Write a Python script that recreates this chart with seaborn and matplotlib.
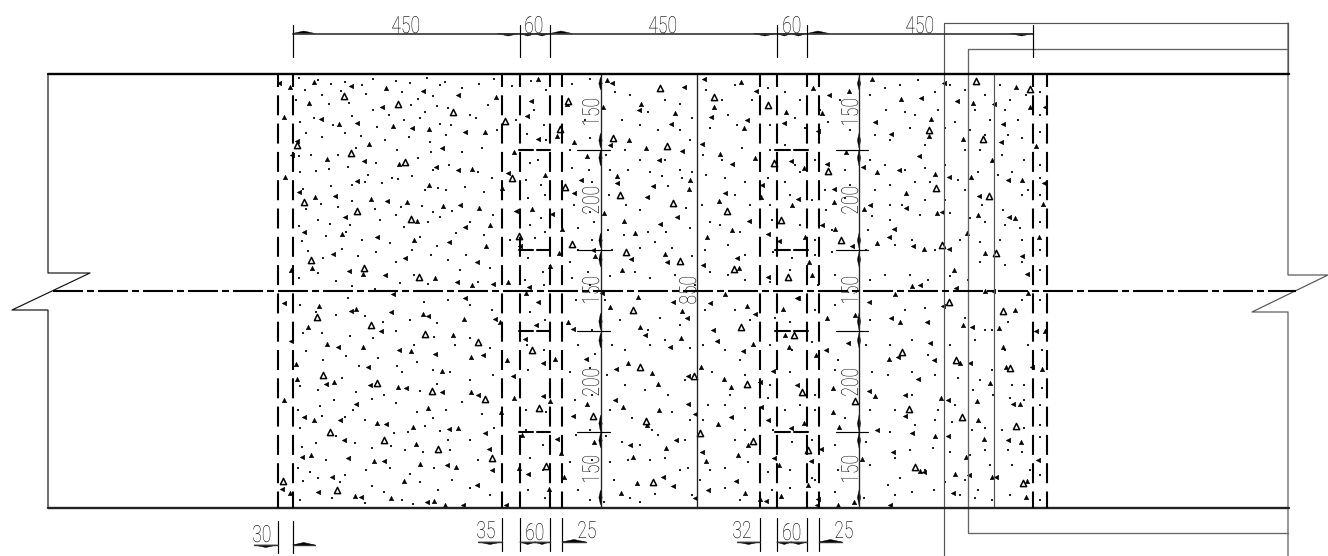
import matplotlib
matplotlib.use('Agg')
import matplotlib.patheffects as pe
import matplotlib.pyplot as plt
from matplotlib.transforms import Affine2D
import pandas as pd
import seaborn as sns

# everything in pixels
top_y, bottom_y, axis_y = 74, 507.5, 291
dashed_x = [277.5, 292.5, 502, 519.5, 550, 562, 760, 776.5, 807, 819, 1033, 1047]
solid_x = [600.5, 697, 859]
grey_x = [994]
level_y = [150, 250, 331, 432]
tick_spans = [(577, 610), (836, 868)]
tie_spans = [((519, 533), (537, 550)), ((775, 790), (794, 808))]
arrow_spans = [(77, 90), (133, 148), (150, 166), (233, 248), (252, 267), (313, 330), (333, 348), (415, 432), (433, 448), (490, 505)]

left_break_x = [48, 48, 90, 12, 48, 48]
left_break_y = [74, 273, 273, 310, 310, 507.5]
right_break_x = [1288, 1288, 1328, 1252, 1288, 1288]
right_break_y = [23, 275, 275, 312, 312, 556]
frame_a_x = [944, 944, 1288]
frame_a_y = [556, 23, 23]
frame_b_x = [1288, 968, 968, 1288]
frame_b_y = [49, 49, 533, 533]

top_ticks = [292.5, 519.5, 550, 776.5, 807, 1033]
top_arrows = [(292.5, 315, -1), (497, 519.5, 1), (519.5, 536, 1), (534, 550, 1), (550, 572, -1), (753, 776.5, 1), (776.5, 792, 1), (790, 807, 1), (807, 829, -1), (1010, 1033, 1)]
bottom_arrows = [(254, 277.5, 1, 545), (292.5, 315, -1, 545), (478, 502, 1, 542), (519.5, 536, 1, 542), (534, 550, 1, 542), (562, 586, -1, 542), (737, 760, 1, 542), (776.5, 792, 1, 542), (790, 807, 1, 542), (819, 842, -1, 542)]
bottom_ticks = [(277.5, 521, 553), (292.5, 521, 553), (502, 518, 551), (519.5, 518, 551), (550, 518, 551), (562, 518, 551), (760, 518, 551), (776.5, 518, 551), (807, 518, 551), (819, 518, 551)]

top_labels = [('450', 406, 24), ('60', 534, 24), ('450', 663, 24), ('60', 792, 24), ('450', 920, 24)]
bottom_labels = [('30', 262, 533), ('35', 486, 529), ('60', 535, 531), ('25', 587, 529), ('32', 742, 529), ('60', 792, 531), ('25', 844, 529)]
side_labels = [('150', 112), ('200', 200), ('150', 290), ('200', 382), ('150', 469)]
side_x = [590, 849]
mid_label = ('850', 687, 290)

open_tri = [(344,96),(398,104),(297,145),(351,153),(405,162),(304,202),(357,211),(411,219),(311,260),(364,268),(419,277),
            (317,317),(371,325),(425,334),(323,375),(377,383),(432,391),(330,432),(384,440),(438,449),(337,490),(283,481),
            (453,112),(568,101),(505,121),(560,129),(512,178),(565,187),(519,236),(572,244),(626,252),(680,261),(673,203),
            (620,195),(613,138),(667,146),(660,88),(714,97),(768,105),(774,163),(828,171),(781,220),(727,211),(734,269),
            (788,277),(841,240),(976,81),(1030,89),(929,130),(983,139),(936,188),(989,196),(942,245),(996,253),(949,302),
            (1003,311),(902,352),(956,360),(1010,368),(909,409),(962,417),(1016,426),(915,467),(1023,483),(478,342),(532,350),
            (485,399),(539,408),(593,416),(492,458),(546,466),(633,310),(640,367),(646,421),(694,376),(700,433),(653,482),
            (741,327),(794,335),(747,384),(753,441),(802,392),(808,450),(855,401)]
solid_tri = [(314,82),(351,86),(386,88),(423,91),(290,87),(279,83),(309,103),(382,107),(284,117),(321,119),(339,124),(357,123),
             (393,126),(412,128),(429,129),(297,141),(369,144),(292,155),(327,159),(364,161),(399,164),(436,167),(285,177),
             (357,181),(429,185),(299,192),(315,197),(335,196),(371,199),(387,201),(407,202),(345,217),(417,221),(304,232),
             (342,234),(377,237),(414,240),(333,254),(312,268),(405,258),(291,270),(349,271),(363,274),(385,275),(435,278),
             (393,294),(538,79),(458,95),(496,97),(531,101),(567,104),(527,116),(557,136),(465,132),(485,132),(538,139),(574,142),
             (442,148),(514,152),(458,170),(472,169),(508,173),(545,175),(581,180),(502,188),(574,193),(443,206),(460,205),
             (479,208),(516,211),(532,209),(552,214),(562,229),(465,227),(490,225),(449,242),(486,246),(520,246),(559,253),
             (593,250),(595,256),(477,262),(550,266),(457,282),(472,285),(493,284),(508,282),(529,287),(526,293),(465,298),
             (607,80),(612,83),(603,107),(684,87),(641,104),(639,110),(675,113),(671,124),(629,140),(610,145),(646,148),
             (682,151),(587,156),(659,160),(617,176),(617,183),(690,180),(653,186),(689,189),(647,197),(604,213),(677,217),
             (624,221),(660,224),(635,233),(631,259),(665,254),(667,262),(622,270),(602,293),(638,297),(704,79),(741,82),(756,91),
             (714,107),(711,117),(786,112),(747,120),(744,128),(784,123),(822,113),(818,131),(813,88),(829,95),(849,91),(875,122),
             (872,79),(702,144),(720,154),(732,164),(755,158),(791,161),(804,168),(827,164),(846,152),(863,167),(877,172),
             (762,185),(761,197),(725,193),(719,201),(798,199),(792,205),(834,189),(834,202),(870,205),(864,209),(749,221),
             (732,230),(822,225),(835,229),(768,234),(707,237),(779,241),(805,237),(852,246),(877,243),(737,258),(739,268),
             (703,265),(809,262),(768,277),(812,275),(798,298),(725,294),(944,83),(1016,87),(921,98),(901,99),(957,101),(973,103),
             (994,104),(1030,107),(1045,107),(931,119),(1003,124),(929,136),(891,134),(963,139),(1001,142),(1036,146),(919,156),
             (992,160),(899,170),(935,174),(949,177),(971,177),(1008,180),(1022,180),(1044,183),(906,193),(979,196),(1043,204),
             (906,208),(937,213),(942,212),(978,215),(1009,217),(1015,218),(894,229),(967,233),(889,237),(1039,237),(913,246),
             (924,249),(949,249),(985,253),(1022,256),(954,270),(1027,274),(912,286),(920,285),(895,294),(956,288),(985,291),
             (993,291),(1028,293),(284,303),(319,306),(351,311),(356,309),(391,312),(423,314),(428,316),(308,327),(381,331),
             (425,334),(291,341),(327,344),(338,347),(363,347),(399,350),(411,351),(435,354),(296,364),(368,367),(297,379),
             (326,384),(334,382),(370,385),(398,387),(406,388),(284,400),(356,404),(428,408),(304,417),(314,420),(340,420),
             (377,423),(386,424),(413,427),(344,440),(416,444),(302,457),(311,455),(348,458),(374,461),(384,461),(420,464),
             (332,477),(404,481),(282,489),(290,493),(318,492),(355,496),(361,497),(391,498),(427,502),(434,501),(538,302),
             (610,307),(673,302),(682,311),(687,318),(464,319),(495,319),(500,322),(536,325),(568,322),(573,329),(453,335),
             (525,339),(471,357),(483,355),(507,360),(543,363),(555,359),(586,359),(442,371),(513,376),(471,392),(478,395),
             (514,398),(543,396),(550,401),(442,392),(587,404),(573,416),(501,412),(449,429),(458,428),(485,433),(522,435),
             (557,439),(594,442),(489,449),(561,453),(447,465),(456,467),(492,470),(519,468),(528,474),(564,477),(477,485),
             (549,489),(463,505),(445,505),(506,505),(640,327),(645,335),(681,338),(670,347),(628,363),(616,369),(652,373),
             (688,376),(658,384),(615,400),(623,407),(688,404),(659,410),(695,414),(647,425),(676,440),(666,448),(630,445),
             (633,457),(663,477),(637,483),(673,486),(621,493),(710,303),(747,306),(755,314),(783,309),(797,298),(827,318),
             (869,302),(855,315),(713,330),(785,335),(717,341),(753,344),(848,343),(789,347),(743,351),(816,355),(826,350),
             (701,367),(773,371),(724,379),(760,382),(731,387),(797,385),(833,388),(869,391),(875,396),(761,407),(833,412),
             (731,417),(718,424),(768,420),(804,423),(791,428),(839,427),(877,430),(748,445),(702,452),(738,455),(821,449),
             (706,461),(774,458),(779,465),(811,461),(862,459),(736,481),(808,485),(708,490),(745,493),(695,498),(760,499),
             (766,501),(781,496),(818,499),(854,502),(817,505),(838,505),(943,306),(1015,310),(891,318),(900,322),(927,322),
             (963,325),(972,327),(999,328),(1036,331),(1045,331),(930,343),(1003,347),(898,357),(889,359),(934,360),(960,363),
             (970,363),(1006,367),(1032,367),(1042,369),(918,379),(990,383),(905,395),(941,398),(948,400),(977,401),(1013,404),
             (1020,404),(905,416),(978,420),(912,433),(935,436),(948,436),(984,439),(1008,440),(1021,442),(893,452),(966,457),
             (1038,460),(920,471),(924,472),(955,474),(969,475),(992,477),(996,477),(1027,481),(953,493),(1026,497),(890,505)]

dots = [(299,78),(318,80),(331,84),(345,82),(362,85),(373,79),(396,81),(410,83),(427,78),(440,85),(305,90),(322,95),(341,91),(366,94),(402,92),
        (418,99),(433,96),(296,100),(329,104),(349,103),(373,110),(411,105),(425,112),(437,106),(300,122),(314,118),(333,125),(352,116),(377,127),
        (404,120),(389,115),(420,118),(440,124),(306,133),(322,137),(345,133),(361,136),(385,140),(409,137),(430,142),(299,156),(311,155),(338,155),
        (356,148),(376,163),(397,150),(418,158),(431,152),(300,172),(316,171),(329,169),(348,167),(368,175),(392,178),(412,176),(433,170),(303,189),
        (331,186),(352,185),(365,182),(382,183),(398,179),(425,190),(438,188),(306,209),(321,204),(338,207),(352,201),(375,209),(401,207),(422,206),
        (433,212),(299,226),(318,220),(330,224),(350,225),(380,220),(396,215),(404,227),(428,222),(440,217),(302,241),(326,236),(346,232),(362,240),
        (390,243),(420,237),(437,246),(308,251),(323,258),(342,249),(358,256),(376,252),(396,262),(412,250),(431,255),(299,278),(318,273),(336,281),
        (352,286),(375,289),(400,283),(414,275),(428,284),(300,305),(316,312),(336,315),(348,298),(365,316),(383,322),(410,320),(424,302),(437,323),
        (303,333),(322,333),(350,336),(373,338),(396,331),(414,345),(434,337),(306,351),(323,360),(346,356),(359,366),(378,358),(397,366),(417,362),
        (433,370),(300,386),(318,390),(342,378),(356,392),(384,395),(402,372),(420,391),(437,384),(298,410),(320,406),(334,400),(353,410),(372,399),
        (396,403),(417,412),(433,418),(300,428),(322,416),(345,417),(365,420),(394,433),(408,432),(425,426),(440,431),(302,447),(316,443),(336,436),
        (355,443),(372,448),(391,446),(405,450),(423,452),(298,468),(310,472),(326,460),(345,475),(366,470),(390,468),(410,474),(434,468),(303,481),
        (318,478),(340,482),(372,486),(384,492),(402,500),(420,482),(438,490),(300,500),(332,498),(365,503),(413,504),
        (445,82),(462,88),(479,84),(494,79),(512,86),(531,81),(546,90),(572,84),(590,79),(448,108),(470,115),(488,105),(516,120),(534,110),(544,125),(585,120),
        (451,125),(476,118),(497,130),(527,134),(546,140),(590,138),(446,135),(462,152),(482,148),(530,163),(538,160),(570,150),(589,170),(449,165),
        (478,172),(492,178),(526,180),(541,185),(572,168),(592,182),(446,190),(465,187),(484,192),(528,198),(545,195),(574,205),(590,212),(452,211),
        (470,222),(493,215),(530,225),(541,218),(578,228),(594,222),(456,233),(484,235),(510,240),(535,238),(545,232),(578,250),(592,240),(448,260),
        (466,255),(490,268),(528,258),(543,272),(570,262),(588,272),(460,270),(478,282),(525,280),(544,285),(572,278),(590,285),(448,300),(470,305),
        (492,310),(530,312),(545,320),(576,300),(592,330),(455,345),(470,338),(490,348),(527,345),(544,350),(578,345),(595,354),(450,372),(470,380),
        (493,375),(528,370),(550,380),(570,372),(590,368),(446,410),(462,402),(482,414),(526,410),(546,412),(575,400),(592,395),(448,440),(470,440),
        (494,428),(526,430),(543,445),(576,435),(590,430),(450,450),(478,460),(530,458),(543,470),(570,462),(592,460),(452,480),(470,488),(490,495),
        (528,490),(545,498),(578,490),(590,500),
        (615,92),(630,95),(648,112),(665,100),(680,104),(692,118),(622,120),(640,125),(658,130),(680,130),(690,140),(606,155),(625,150),(640,160),
        (665,160),(680,170),(692,172),(610,170),(628,170),(650,172),(662,176),(682,178),(609,195),(626,205),(640,210),(668,186),(686,208),(608,230),
        (624,235),(648,232),(666,232),(690,228),(612,250),(640,248),(655,242),(672,248),(692,256),(610,276),(635,272),(650,278),(675,275),(695,285),
        (605,300),(620,320),(648,330),(660,318),(680,325),(612,345),(625,350),(650,345),(665,340),(690,348),(607,375),(625,385),(645,390),(668,395),
        (685,380),(610,410),(632,418),(652,430),(672,412),(690,420),(606,436),(622,442),(640,445),(658,435),(685,440),(610,462),(628,460),(650,460),
        (665,458),(688,468),(614,480),(630,498),(655,494),(680,470),(692,495),(604,502),(640,502),
        (706,90),(722,100),(735,85),(752,100),(768,88),(785,92),(800,100),(820,110),(840,100),(870,95),(710,128),(728,115),(737,125),(770,125),(795,118),
        (805,128),(828,122),(850,130),(875,135),(703,155),(722,160),(742,148),(770,150),(785,145),(795,165),(815,160),(845,170),(870,160),(706,175),
        (725,178),(745,182),(768,178),(785,182),(800,172),(825,190),(850,185),(875,190),(702,205),(735,195),(750,205),(770,205),(790,195),(812,200),
        (826,210),(845,198),(872,216),(710,222),(720,225),(740,232),(772,220),(800,225),(815,240),(832,230),(868,230),(705,250),(728,245),(745,255),
        (773,252),(792,258),(815,255),(832,252),(866,250),(710,272),(728,275),(745,280),(770,282),(790,270),(818,285),(835,275),(870,280),(705,310),
        (735,310),(750,320),(775,318),(790,322),(815,310),(835,305),(870,320),(703,345),(725,350),(740,360),(770,345),(792,350),(812,342),(838,360),
        (866,345),(712,372),(730,395),(745,375),(770,385),(790,372),(815,395),(835,370),(872,372),(708,405),(725,405),(745,408),(768,398),(785,410),
        (800,405),(815,410),(845,418),(870,410),(703,420),(735,440),(745,430),(773,430),(792,442),(812,440),(835,445),(866,442),(710,470),(725,468),
        (748,462),(768,472),(790,470),(812,478),(838,470),(870,465),(700,480),(725,488),(740,500),(772,490),(790,488),(815,480),(835,492),(864,498),
        (885,88),(900,85),(918,80),(935,92),(950,85),(965,90),(985,95),(1000,85),(1010,100),(1026,95),(1040,92),(886,110),(905,112),(915,115),(938,110),
        (955,122),(975,110),(990,120),(1005,110),(1018,120),(1040,115),(890,140),(910,128),(925,145),(945,128),(970,130),(985,135),(1008,135),(1022,138),
        (1040,132),(885,165),(905,170),(925,168),(945,165),(965,150),(980,150),(1002,155),(1024,160),(1040,165),(890,185),(915,182),(930,182),(958,180),
        (978,172),(998,175),(1012,172),(1028,190),(1040,178),(890,205),(902,205),(925,200),(945,200),(965,190),(982,205),(1003,210),(1022,195),(1040,195),
        (890,220),(920,215),(950,213),(970,218),(985,222),(1005,225),(1020,228),(1040,222),(895,245),(912,240),(935,250),(960,240),(980,242),(1000,240),
        (1022,240),(1040,250),(885,275),(910,275),(928,280),(950,276),(968,280),(980,262),(1005,265),(1022,262),(1040,270),(905,310),(925,308),(965,318),
        (985,330),(1008,322),(1022,300),(1040,300),(890,345),(912,340),(928,355),(950,345),(975,340),(992,330),(1005,350),(1028,345),(1042,350),(888,375),
        (912,372),(935,375),(958,378),(980,380),(992,370),(1012,385),(1024,385),(1042,388),(895,410),(912,395),(938,410),(955,405),(973,390),(993,395),
        (1010,398),(1024,400),(1040,405),(890,432),(915,425),(935,420),(952,422),(972,430),(985,428),(1002,430),(1024,428),(1040,425),(895,458),(910,450),
        (933,448),(950,452),(970,455),(985,450),(1008,450),(1022,452),(1040,437),(888,485),(900,478),(925,470),(945,482),(965,480),(978,490),(990,465),
        (1012,465),(1030,470),(1040,475),(895,495),(912,492),(934,490),(960,495),(975,498),(992,500),(1010,495),(1040,500)]

sns.set_theme(style='white')
plt.rcParams['font.family'] = ['Roboto', 'Liberation Sans', 'DejaVu Sans']

fig = plt.figure(figsize=(13.28, 5.56), dpi=100)
ax = fig.add_axes([0, 0, 1, 1])
PX = 0.72


class Squeeze(pe.AbstractPathEffect):
    # the CAD font is narrow, no installed one is, so squeeze the glyphs
    def __init__(self, sx):
        super().__init__()
        self.sx = sx

    def draw_path(self, renderer, gc, tpath, affine, rgbFace=None):
        w = tpath.get_extents().x1
        squeezed = Affine2D().scale(self.sx, 1).translate((1 - self.sx) * w / 2, 0) + affine
        renderer.draw_path(gc, tpath, squeezed, rgbFace)


def line(xs, ys, lw=0.8, color='black', **kw):
    sns.lineplot(x=list(xs), y=list(ys), estimator=None, sort=False, color=color,
                 linewidth=lw, legend=False, ax=ax, **kw)


def dash(px, lw, offset=0):
    # matplotlib scales dash lengths by the line width
    return (offset * PX / lw, tuple(p * PX / lw for p in px))


# outline and breaks
line(left_break_x, left_break_y, 0.85, '#111111')
line(right_break_x, right_break_y, 0.85, '#555555')
line(frame_a_x, frame_a_y, 0.85, '#555555')
line(frame_b_x, frame_b_y, 0.95, '#666666')
line([1288, 1288], [23, 74], 0.85, '#555555')
for x in grey_x:
    line([x, x], [top_y, bottom_y], 0.85, '#555555')
for x in solid_x:
    line([x, x], [top_y, bottom_y], 0.95, '#222222')

# hatch
dots_df = pd.DataFrame(dots, columns=['x', 'y'])
sns.scatterplot(data=dots_df, x='x', y='y', ax=ax, s=1.3, color='#222222', marker='s', linewidth=0, legend=False)
solid_df = pd.DataFrame(solid_tri, columns=['x', 'y'])
sns.scatterplot(data=solid_df.iloc[::2], x='x', y='y', ax=ax, s=10, color='black', marker='^', linewidth=0.4, edgecolor='black', legend=False)
sns.scatterplot(data=solid_df.iloc[1::2], x='x', y='y', ax=ax, s=10, color='black', marker='<', linewidth=0.4, edgecolor='black', legend=False)
open_df = pd.DataFrame(open_tri, columns=['x', 'y'])
sns.scatterplot(data=open_df, x='x', y='y', ax=ax, s=20, facecolor='white', marker='^', linewidth=1.1, edgecolor='black', legend=False)

# heavy lines
line([48, 1289], [top_y, top_y], 1.7)
line([48, 1289], [bottom_y, bottom_y], 1.7, '#222222')
line([53, 1296], [axis_y, axis_y], 1.5, linestyle=dash((30, 4, 7, 4), 1.5))
for x in dashed_x:
    line([x, x], [top_y, bottom_y], 1.5, linestyle=dash((20, 8.3), 1.5, offset=7))
for y in level_y:
    for x0, x1 in tick_spans:
        line([x0, x1], [y, y], 0.85)
    for pair in tie_spans:
        for x0, x1 in pair:
            line([x0, x1], [y, y], 1.5)

# dimension lines
line([292.5, 1033], [33.5, 33.5], 1.2, '#333333')
for x in top_ticks:
    line([x, x], [24.5, 57], 0.85)
for x, y0, y1 in bottom_ticks:
    line([x, x], [y0, y1], 0.85)
for x0, x1, side, y in bottom_arrows:
    line([x0, x1], [y, y], 1.0, '#333333')
    ax.fill([x0, (x0 + x1) / 2, x1], [y, y + 2.5 * side, y], color='black', lw=0.3)
for x0, x1, side in top_arrows:
    ax.fill([x0, (x0 + x1) / 2, x1], [33.5, 33.5 + 2.5 * side, 33.5], color='black', lw=0.3)
for x in [600.5, 859]:
    for y0, y1 in arrow_spans:
        ax.fill([x, x + 1.7, x, x - 1.7], [y0, (y0 + y1) / 2, y1, (y0 + y1) / 2], color='black', lw=0.2)

# labels
style = dict(ha='center', va='center_baseline', fontsize=17, color='black', fontweight='light',
             rotation_mode='anchor', path_effects=[Squeeze(0.74)])
for txt, x, y in top_labels + bottom_labels:
    ax.text(x, y, txt, **style)
for x in side_x:
    for txt, y in side_labels:
        ax.text(x, y, txt, rotation=90, **style)
ax.text(mid_label[1], mid_label[2], mid_label[0], rotation=90, **style)

ax.set_xlim(0, 1328)
ax.set_ylim(556, 0)
ax.axis('off')
fig.savefig('out.png', dpi=100, facecolor='white')
